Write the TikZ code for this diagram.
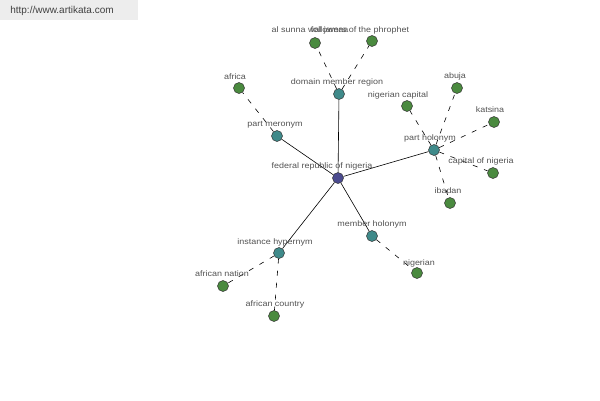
\documentclass[tikz,border=0pt]{standalone}
\usepackage{fontspec}
\setmainfont{Liberation Sans}
\newfontfamily\lblfont[FakeStretch=1.12]{Liberation Sans}
\begin{document}
\begin{tikzpicture}[x=1pt,y=-1pt,
  hub/.style={circle,draw=black!80,line width=0.5pt,fill=hubc,minimum size=11pt,inner sep=0pt},
  rel/.style={circle,draw=black!80,line width=0.5pt,fill=relc,minimum size=11pt,inner sep=0pt},
  leaf/.style={circle,draw=black!80,line width=0.5pt,fill=leafc,minimum size=11pt,inner sep=0pt},
  lbl/.style={font=\lblfont\fontsize{8}{9}\selectfont,text=black!68,inner sep=0pt},
  solidedge/.style={draw=black,line width=0.6pt},
  dashedge/.style={draw=black,line width=0.6pt,dash pattern=on 5pt off 7pt}]
\definecolor{hubc}{HTML}{4B4B8F}
\definecolor{relc}{HTML}{3F8A8A}
\definecolor{leafc}{HTML}{4A8A3F}
\useasboundingbox (0,0) rectangle (600,400);
\fill[black!7] (0,0) rectangle (138,20);
\node[font=\fontsize{10}{11}\selectfont,text=black!75,inner sep=0pt] (wm) at (62,11) {http://www.artikata.com};
% nodes
\node[hub] (c) at (338,178) {};
\node[rel] (dmr) at (339,94) {};
\node[rel] (pm) at (277,136) {};
\node[rel] (ph) at (434,150) {};
\node[rel] (mh) at (372,236) {};
\node[rel] (ih) at (279,253) {};
\node[leaf] (asw) at (315,43) {};
\node[leaf] (fol) at (372,41) {};
\node[leaf] (afr) at (239,88) {};
\node[leaf] (nc) at (407,106) {};
\node[leaf] (abu) at (457,88) {};
\node[leaf] (kat) at (494,122) {};
\node[leaf] (con) at (493,173) {};
\node[leaf] (iba) at (450,203) {};
\node[leaf] (nig) at (417,273) {};
\node[leaf] (an) at (223,286) {};
\node[leaf] (ac) at (274,316) {};
% edges
\draw[solidedge] (c) -- (dmr);
\draw[solidedge] (c) -- (pm);
\draw[solidedge] (c) -- (ph);
\draw[solidedge] (c) -- (mh);
\draw[solidedge] (c) -- (ih);
\draw[dashedge] (dmr) -- (asw);
\draw[dashedge] (dmr) -- (fol);
\draw[dashedge] (pm) -- (afr);
\draw[dashedge] (ph) -- (nc);
\draw[dashedge] (ph) -- (abu);
\draw[dashedge] (ph) -- (kat);
\draw[dashedge] (ph) -- (con);
\draw[dashedge] (ph) -- (iba);
\draw[dashedge] (mh) -- (nig);
\draw[dashedge] (ih) -- (an);
\draw[dashedge] (ih) -- (ac);
% labels
\node[lbl] (lc) at (322,166) {federal republic of nigeria};
\node[lbl] (ldmr) at (337,82) {domain member region};
\node[lbl] (lpm) at (275,125) {part meronym};
\node[lbl] (lph) at (430,138) {part holonym};
\node[lbl] (lmh) at (372,224) {member holonym};
\node[lbl] (lih) at (275,242) {instance hypernym};
\node[lbl] (lasw) at (310,30) {al sunna wal jamaa};
\node[lbl] (lfol) at (360,30) {followers of the phrophet};
\node[lbl] (lafr) at (235,77) {africa};
\node[lbl] (lnc) at (398,95) {nigerian capital};
\node[lbl] (labu) at (455,76) {abuja};
\node[lbl] (lkat) at (490,110) {katsina};
\node[lbl] (lcon) at (481,161) {capital of nigeria};
\node[lbl] (liba) at (448,191) {ibadan};
\node[lbl] (lnig) at (419,263) {nigerian};
\node[lbl] (lan) at (222,274) {african nation};
\node[lbl] (lac) at (275,304) {african country};
\end{tikzpicture}
\end{document}
